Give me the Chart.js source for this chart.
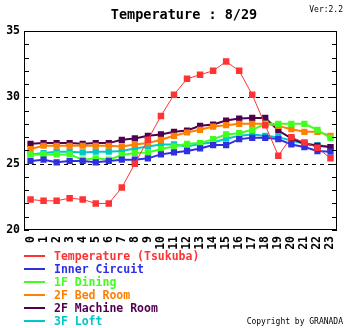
<html>
<head>
    <title>Temperature 8/29</title>
    <style>
        body { margin: 0; background: #fff; }
        #wrap { width: 346px; height: 328px; }
    </style>
</head>
<body>
    <div id="wrap"><canvas id="tempChart" width="346" height="328"></canvas></div>

    <script src="https://cdn.jsdelivr.net/npm/chart.js"></script>

    <script>
        const hours = ['0','1','2','3','4','5','6','7','8','9','10','11','12','13','14','15','16','17','18','19','20','21','22','23'];

        const tempTsukuba   = [22.3,22.2,22.2,22.4,22.3,22.0,22.0,23.2,25.0,26.8,28.6,30.2,31.4,31.7,32.0,32.7,32.0,30.2,27.9,25.6,27.0,26.6,26.2,25.4];
        const innerCircuit  = [25.2,25.3,25.1,25.2,25.2,25.1,25.2,25.3,25.3,25.4,25.7,25.85,25.95,26.15,26.4,26.4,26.85,26.95,26.95,26.85,26.45,26.25,25.95,25.9];
        const dining1F      = [25.7,25.7,25.7,25.7,25.3,25.4,25.3,25.65,25.8,25.85,26.1,26.3,26.5,26.55,26.85,27.2,27.3,27.55,28.0,28.0,28.0,28.0,27.55,26.95];
        const bedRoom2F     = [26.1,26.35,26.35,26.35,26.35,26.35,26.35,26.3,26.45,26.55,26.8,27.1,27.35,27.55,27.8,27.9,28.0,28.0,28.0,27.85,27.6,27.4,27.4,27.1];
        const machineRoom2F = [26.5,26.55,26.55,26.55,26.5,26.55,26.55,26.8,26.9,27.1,27.2,27.4,27.5,27.85,27.95,28.25,28.4,28.45,28.45,27.5,26.9,26.5,26.35,26.25];
        const loft3F        = [25.7,25.8,25.9,25.9,25.85,25.9,25.9,25.95,26.15,26.3,26.45,26.45,26.3,26.5,26.6,26.88,27.1,27.2,27.1,27.0,26.75,26.5,26.4,26.25];

        const seriesNames = ['Temperature (Tsukuba)','Inner Circuit','1F Dining','2F Bed Room','2F Machine Room','3F Loft'];
        const dashedAt = [25, 30];

        const colores = ['#ff3333','#3030e0','#40ff20','#ff8000','#500050','#00c8c8'];
        const fuente = '"DejaVu Sans Mono", monospace';

        function serie(i, data) {
            return {
                label: seriesNames[i],
                data: data,
                borderColor: colores[i],
                backgroundColor: colores[i],
                borderWidth: i === 0 ? 1 : 2,
                pointStyle: 'rect',
                pointRadius: i === 0 ? 4.6 : 4.4,
                pointBorderWidth: 0,
                pointHoverRadius: 4.4,
                tension: 0,
                fill: false
            };
        }

        // Quitar el relleno automatico de las escalas
        function sinRelleno(s) {
            s.paddingLeft = 0;
            s.paddingRight = 0;
            s.paddingTop = 0;
            s.paddingBottom = 0;
        }

        // Rejilla, borde, marcas y textos
        const decoracion = {
            id: 'decoracion',
            beforeDatasetsDraw(chart) {
                const c = chart.ctx, a = chart.chartArea, y = chart.scales.y;
                c.save();
                c.strokeStyle = '#000';
                c.lineWidth = 1;
                c.setLineDash([4, 4]);
                dashedAt.forEach(v => {
                    const py = Math.round(y.getPixelForValue(v)) + 0.5;
                    c.beginPath();
                    c.moveTo(a.left, py);
                    c.lineTo(a.right, py);
                    c.stroke();
                });
                c.restore();
            },
            afterDatasetsDraw(chart) {
                const c = chart.ctx, a = chart.chartArea, y = chart.scales.y;
                c.save();
                c.strokeStyle = '#000';
                c.lineWidth = 1;
                c.strokeRect(a.left + 0.5, a.top + 0.5, a.right - a.left - 1, a.bottom - a.top - 1);
                y.ticks.forEach(t => {
                    const py = Math.round(y.getPixelForValue(t.value)) + 0.5;
                    c.beginPath();
                    c.moveTo(a.left, py); c.lineTo(a.left + 5, py);
                    c.moveTo(a.right - 5, py); c.lineTo(a.right, py);
                    c.stroke();
                });

                // Titulo
                c.fillStyle = '#000';
                c.textBaseline = 'middle';
                c.textAlign = 'center';
                c.font = 'bold 13.5px ' + fuente;
                c.fillText('Temperature : 8/29', 184, 15);
                c.textAlign = 'right';
                c.font = '8px ' + fuente;
                c.fillText('Ver:2.2', 343, 10);
                c.fillText('Copyright by GRANADA', 343, 322);

                // Leyenda
                c.textAlign = 'left';
                c.font = 'bold 11.5px ' + fuente;
                chart.data.datasets.forEach((ds, i) => {
                    const ly = 256 + i * 13;
                    c.strokeStyle = ds.borderColor;
                    c.lineWidth = 2;
                    c.beginPath();
                    c.moveTo(24, ly); c.lineTo(45, ly);
                    c.stroke();
                    c.fillStyle = ds.borderColor;
                    c.fillText(ds.label, 54, ly + 1);
                });
                c.restore();
            }
        };

        const ctx = document.getElementById('tempChart').getContext('2d');
        const tempChart = new Chart(ctx, {
            type: 'line',
            data: {
                labels: hours,
                datasets: [
                    serie(0, tempTsukuba),
                    serie(1, innerCircuit),
                    serie(2, dining1F),
                    serie(3, bedRoom2F),
                    serie(4, machineRoom2F),
                    serie(5, loft3F)
                ]
            },
            options: {
                responsive: false,
                animation: false,
                layout: { padding: { top: 31, right: 9, left: 0, bottom: 0 } },
                plugins: {
                    legend: { display: false },
                    title: { display: false },
                    tooltip: { enabled: false }
                },
                scales: {
                    x: {
                        offset: true,
                        grid: { display: false, drawTicks: false },
                        border: { display: false },
                        ticks: {
                            autoSkip: false,
                            minRotation: 90,
                            maxRotation: 90,
                            padding: 6,
                            color: '#000',
                            font: { family: fuente, size: 11.5, weight: 'bold' }
                        },
                        afterFit: s => { s.height = 98; sinRelleno(s); }
                    },
                    y: {
                        min: 20,
                        max: 35,
                        grid: { display: false, drawTicks: false },
                        border: { display: false },
                        ticks: {
                            stepSize: 1,
                            autoSkip: false,
                            padding: 4,
                            color: '#000',
                            font: { family: fuente, size: 11.5, weight: 'bold' },
                            callback: v => (v % 5 === 0 ? v : '')
                        },
                        afterFit: s => { s.width = 24; sinRelleno(s); }
                    }
                }
            },
            plugins: [decoracion]
        });
    </script>
</body>
</html>
